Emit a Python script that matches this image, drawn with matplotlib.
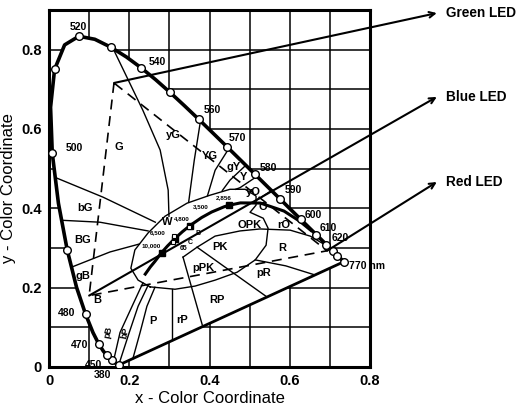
import numpy as np
import matplotlib
matplotlib.use('Agg')
import matplotlib.pyplot as plt
from matplotlib.ticker import MultipleLocator, FixedLocator, FixedFormatter

plt.rcParams['font.family'] = ['Liberation Sans', 'DejaVu Sans']

# ---------------- data ----------------
wavelength = [380, 410, 420, 430, 440, 450, 460, 465, 470, 475, 480, 485, 490, 495,
              500, 505, 510, 515, 520, 525, 530, 535, 540, 545, 550, 555, 560, 565,
              570, 575, 580, 585, 590, 595, 600, 605, 610, 615, 620, 630, 640, 650,
              660, 680, 770]
locus_x = [0.1741, 0.1727, 0.1714, 0.1689, 0.1644, 0.1566, 0.1440, 0.1355, 0.1241, 0.1096,
           0.0913, 0.0687, 0.0454, 0.0235, 0.0082, 0.0039, 0.0139, 0.0389, 0.0743, 0.1142,
           0.1547, 0.1929, 0.2296, 0.2658, 0.3016, 0.3373, 0.3731, 0.4087, 0.4441, 0.4788,
           0.5125, 0.5448, 0.5752, 0.6029, 0.6270, 0.6482, 0.6658, 0.6801, 0.6915, 0.7079,
           0.7190, 0.7260, 0.7300, 0.7334, 0.7347]
locus_y = [0.0050, 0.0048, 0.0051, 0.0069, 0.0109, 0.0177, 0.0297, 0.0399, 0.0578, 0.0868,
           0.1327, 0.2007, 0.2950, 0.4127, 0.5384, 0.6548, 0.7502, 0.8120, 0.8338, 0.8262,
           0.8059, 0.7816, 0.7543, 0.7243, 0.6923, 0.6589, 0.6245, 0.5896, 0.5547, 0.5202,
           0.4866, 0.4544, 0.4242, 0.3965, 0.3725, 0.3514, 0.3340, 0.3197, 0.3083, 0.2920,
           0.2809, 0.2740, 0.2700, 0.2666, 0.2653]
marked_wl = [380, 450, 460, 470, 480, 490, 500, 510, 520, 530, 540, 550, 560, 570,
             580, 590, 600, 610, 620, 630, 640, 770]

wl_text = ['520', '540', '560', '570', '580', '590', '600', '610', '620', '500', '480', '470', '450', '380']
wl_text_x = [0.072, 0.269, 0.406, 0.469, 0.546, 0.608, 0.658, 0.696, 0.726, 0.062, 0.045, 0.077, 0.110, 0.132]
wl_text_y = [0.858, 0.768, 0.648, 0.578, 0.502, 0.447, 0.384, 0.351, 0.326, 0.552, 0.136, 0.055, 0.004, -0.020]
end_label = '770 nm'
end_label_xy = (0.748, 0.254)

# Planckian locus
planck_x = [0.2399, 0.2525, 0.2637, 0.2807, 0.2951, 0.3135, 0.3324, 0.3512, 0.3805, 0.4053,
            0.4369, 0.4476, 0.4770, 0.5267, 0.5857, 0.6251, 0.6528]
planck_y = [0.2342, 0.2522, 0.2659, 0.2884, 0.3048, 0.3237, 0.3410, 0.3564, 0.3768, 0.3907,
            0.4041, 0.4074, 0.4137, 0.4133, 0.3931, 0.3674, 0.3444]
temp_labels = ['10,000', '6,500', '4,800', '3,500', '2,856']
temp_x = [0.2807, 0.3135, 0.3512, 0.4053, 0.4476]
temp_y = [0.2884, 0.3237, 0.3564, 0.3907, 0.4074]
temp_text_x = [0.255, 0.272, 0.330, 0.378, 0.436]
temp_text_y = [0.306, 0.338, 0.374, 0.404, 0.428]
illum_names = ['B', 'C', '65']
illum_x = [0.348, 0.310, 0.3127]
illum_y = [0.352, 0.316, 0.329]
illum_text_x = [0.371, 0.352, 0.336]
illum_text_y = [0.336, 0.313, 0.298]

# colour-name region boundaries (Kelly chart)
b_G_yG = ([0.162, 0.234, 0.277, 0.297, 0.299], [0.798, 0.647, 0.547, 0.446, 0.380])
b_yG_YG = ([0.377, 0.362, 0.352, 0.348], [0.617, 0.521, 0.446, 0.415])
b_YG_gY = ([0.449, 0.414, 0.395], [0.552, 0.496, 0.432])
b_gY_Y = ([0.491, 0.451, 0.432], [0.509, 0.471, 0.445])
b_Y_yO = ([0.519, 0.476, 0.465], [0.481, 0.452, 0.448])
b_yO_O = ([0.556, 0.525, 0.516], [0.446, 0.425, 0.420])
b_G_bG = ([0.020, 0.135, 0.265], [0.476, 0.428, 0.365])
b_bG_BG = ([0.030, 0.127, 0.247], [0.370, 0.365, 0.343])
b_BG_gB = ([0.057, 0.152, 0.225], [0.252, 0.290, 0.310])
b_white = ([0.252, 0.222, 0.204, 0.214, 0.247, 0.289, 0.344, 0.401, 0.451, 0.489, 0.516,
            0.516, 0.501, 0.534, 0.546, 0.541, 0.514, 0.469, 0.414, 0.364, 0.314, 0.252],
           [0.202, 0.219, 0.249, 0.295, 0.338, 0.380, 0.413, 0.433, 0.448, 0.448, 0.431,
            0.408, 0.390, 0.375, 0.350, 0.307, 0.270, 0.239, 0.219, 0.204, 0.196, 0.202])
b_PK_top = ([0.334, 0.369, 0.414, 0.476, 0.526, 0.601, 0.651, 0.693],
            [0.277, 0.302, 0.330, 0.343, 0.348, 0.345, 0.330, 0.305])
b_diag = ([0.369, 0.544], [0.302, 0.176])
b_rP_RP = ([0.334, 0.382], [0.277, 0.106])
b_P_rP = ([0.307, 0.307], [0.197, 0.068])
b_R_pR = ([0.514, 0.590, 0.663], [0.270, 0.255, 0.232])
b_p1 = ([0.160, 0.177, 0.207, 0.234], [0.012, 0.087, 0.153, 0.212])
b_p2 = ([0.174, 0.200, 0.222, 0.247], [0.006, 0.087, 0.153, 0.206])
b_p3 = ([0.209, 0.227, 0.244, 0.264], [0.021, 0.087, 0.153, 0.201])

region_names = ['G', 'yG', 'YG', 'gY', 'Y', 'yO', 'O', 'rO', 'R', 'pR', 'OPK', 'PK', 'pPK',
                'RP', 'rP', 'P', 'W', 'bG', 'BG', 'gB', 'B']
region_x = [0.175, 0.309, 0.401, 0.459, 0.484, 0.509, 0.534, 0.584, 0.581, 0.534, 0.501,
            0.426, 0.384, 0.419, 0.332, 0.259, 0.294, 0.090, 0.085, 0.085, 0.120]
region_y = [0.555, 0.585, 0.532, 0.504, 0.479, 0.441, 0.403, 0.358, 0.300, 0.237, 0.358,
            0.302, 0.250, 0.169, 0.119, 0.116, 0.366, 0.401, 0.320, 0.229, 0.169]
rot_names = ['pB', 'bP']
rot_x = [0.147, 0.190]
rot_y = [0.088, 0.086]

# LED gamut triangle
led_names = ['Green LED', 'Blue LED', 'Red LED']
led_x = [0.162, 0.100, 0.693]
led_y = [0.716, 0.180, 0.293]
led_tip_fx = [0.840, 0.840, 0.840]
led_tip_fy = [0.968, 0.763, 0.555]

xticks = [0, 0.2, 0.4, 0.6, 0.8]
xtick_labels = ['0', '0.2', '0.4', '0.6', '0.8']
yticks = [0, 0.2, 0.4, 0.6, 0.8]
ytick_labels = ['0', '0.2', '0.4', '0.6', '0.8']

# ---------------- figure ----------------
fig = plt.figure(figsize=(5.2, 4.09), dpi=100)
ax = fig.add_axes([49 / 520, 42 / 409, 321 / 520, 357 / 409])
ax.set_xlim(0, 0.8)
ax.set_ylim(0, 0.9)

ax.xaxis.set_major_locator(FixedLocator(xticks))
ax.xaxis.set_major_formatter(FixedFormatter(xtick_labels))
ax.yaxis.set_major_locator(FixedLocator(yticks))
ax.yaxis.set_major_formatter(FixedFormatter(ytick_labels))
ax.xaxis.set_minor_locator(MultipleLocator(0.1))
ax.yaxis.set_minor_locator(MultipleLocator(0.1))
ax.set_axisbelow(True)
ax.grid(True, which='both', color='black', lw=1.1)
ax.tick_params(which='both', length=0, labelsize=10.5, pad=5)
for lab in ax.get_xticklabels() + ax.get_yticklabels():
    lab.set_fontweight('bold')
for sp in ax.spines.values():
    sp.set_linewidth(2.2)

lx = np.array(locus_x)
ly = np.array(locus_y)
# white interior hides the grid inside the horseshoe
ax.fill(np.append(lx, lx[0]), np.append(ly, ly[0]), color='white', zorder=1, lw=0)
ax.plot(lx, ly, color='black', lw=2.6, zorder=4, solid_capstyle='round')
ax.plot([lx[-1], lx[0]], [ly[-1], ly[0]], color='black', lw=2.0, zorder=4)

idx = [wavelength.index(w) for w in marked_wl]
ax.plot(lx[idx], ly[idx], 'o', ms=5.5, mfc='white', mec='black', mew=1.0, zorder=6)

for t, x, y in zip(wl_text, wl_text_x, wl_text_y):
    ax.text(x, y, t, fontsize=7.5, fontweight='bold', ha='center', va='center', zorder=7)
ax.text(end_label_xy[0], end_label_xy[1], end_label, fontsize=7.5, fontweight='bold',
        ha='left', va='center', zorder=7)

# region boundaries
for bx, by in [b_G_yG, b_yG_YG, b_YG_gY, b_gY_Y, b_Y_yO, b_yO_O, b_G_bG, b_bG_BG,
               b_BG_gB, b_white, b_PK_top, b_diag, b_rP_RP, b_P_rP, b_R_pR,
               b_p1, b_p2, b_p3]:
    ax.plot(bx, by, color='black', lw=1.0, zorder=3)

for n, x, y in zip(region_names, region_x, region_y):
    ax.text(x, y, n, fontsize=8, fontweight='bold', ha='center', va='center', zorder=7)
for n, x, y in zip(rot_names, rot_x, rot_y):
    ax.text(x, y, n, fontsize=6.5, fontweight='bold', ha='center', va='center',
            rotation=78, zorder=7)

# Planckian locus
ax.plot(planck_x, planck_y, color='black', lw=2.2, zorder=5)
ax.plot(temp_x[:3] + temp_x[4:], temp_y[:3] + temp_y[4:], 's', ms=4, color='black', zorder=6)
for t, x, y in zip(temp_labels, temp_text_x, temp_text_y):
    ax.text(x, y, t, fontsize=4.5, fontweight='bold', ha='center', va='center', zorder=7)
ax.plot(illum_x, illum_y, 's', ms=3, mfc='white', mec='black', mew=0.8, zorder=6)
for t, x, y in zip(illum_names, illum_text_x, illum_text_y):
    ax.text(x, y, t, fontsize=5, fontweight='bold', ha='center', va='center', zorder=7)

# LED gamut triangle (dashed)
ax.plot(led_x + [led_x[0]], led_y + [led_y[0]], color='black', lw=1.2,
        dashes=(6, 4), zorder=4)

# arrows to LED labels
for name, x, y, fx, fy in zip(led_names, led_x, led_y, led_tip_fx, led_tip_fy):
    ax.annotate('', xy=(fx, fy), xycoords='figure fraction', xytext=(x, y),
                textcoords='data', annotation_clip=False,
                arrowprops=dict(arrowstyle='->', lw=1.5, color='black',
                                shrinkA=0, shrinkB=0, mutation_scale=10))
    fig.text(fx + 0.017, fy, name, fontsize=9.8, fontweight='bold', ha='left', va='center')

ax.set_xlabel('x - Color Coordinate', fontsize=12, labelpad=2)
ax.set_ylabel('y - Color Coordinate', fontsize=12, labelpad=4)

fig.savefig('out.png', dpi=100)
